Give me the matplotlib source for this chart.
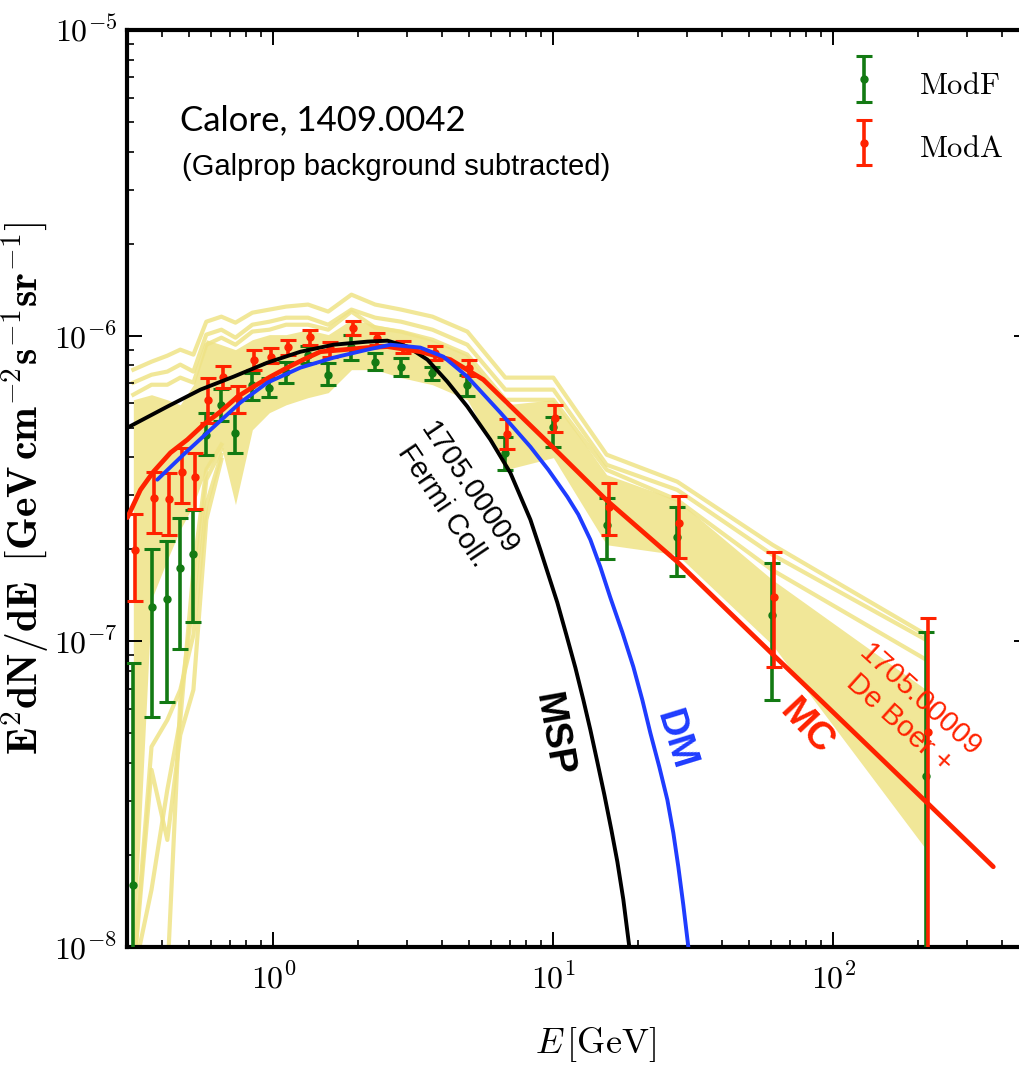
import matplotlib
matplotlib.use("Agg")
import matplotlib.pyplot as plt
from matplotlib.ticker import FuncFormatter
from matplotlib.legend_handler import HandlerErrorbar
import numpy as np

plt.rcParams['mathtext.fontset'] = 'cm'
plt.rcParams['font.family'] = ['DejaVu Sans']

# ---------------------------------------------------------------- data
# energy bin centres [GeV]
energy = [0.316, 0.367, 0.418, 0.465, 0.518, 0.576, 0.652, 0.732, 0.841, 0.968,
          1.11, 1.33, 1.57, 1.90, 2.31, 2.86, 3.70, 4.93, 6.74, 10.0,
          15.5, 27.7, 60.6, 215.0]

# ModF spectrum: value, lower and upper end of error bar
modF = [1.60e-8, 1.30e-7, 1.38e-7, 1.74e-7, 1.93e-7, 4.74e-7, 5.94e-7, 4.81e-7,
        6.91e-7, 6.76e-7, 7.63e-7, 8.67e-7, 7.45e-7, 9.21e-7, 8.22e-7, 7.92e-7,
        7.57e-7, 6.91e-7, 4.14e-7, 5.04e-7, 2.41e-7, 2.20e-7, 1.22e-7, 3.63e-8]
modF_lo = [5e-9, 5.66e-8, 6.34e-8, 9.45e-8, 1.16e-7, 4.08e-7, 5.27e-7, 4.14e-7,
           6.17e-7, 6.31e-7, 7.02e-7, 8.16e-7, 6.91e-7, 8.35e-7, 7.74e-7, 7.40e-7,
           7.18e-7, 6.36e-7, 3.64e-7, 4.33e-7, 1.86e-7, 1.63e-7, 6.43e-8, 5e-9]
modF_hi = [8.50e-8, 2.01e-7, 2.13e-7, 2.54e-7, 2.69e-7, 5.60e-7, 6.71e-7, 5.60e-7,
           7.57e-7, 7.29e-7, 8.22e-7, 9.28e-7, 8.16e-7, 1.008e-6, 8.80e-7, 8.47e-7,
           7.92e-7, 7.45e-7, 4.67e-7, 5.43e-7, 2.95e-7, 2.76e-7, 1.81e-7, 1.07e-7]

# ModA spectrum
modA = [1.99e-7, 2.95e-7, 2.93e-7, 3.59e-7, 3.46e-7, 6.17e-7, 7.34e-7, 6.27e-7,
        8.35e-7, 8.54e-7, 9.21e-7, 9.92e-7, 9.14e-7, 1.062e-6, 9.85e-7, 9.21e-7,
        8.80e-7, 7.86e-7, 4.78e-7, 5.39e-7, 2.76e-7, 2.44e-7, 1.40e-7, 5.06e-8]
modA_lo = [1.35e-7, 2.27e-7, 2.23e-7, 2.84e-7, 2.71e-7, 5.19e-7, 6.76e-7, 5.60e-7,
           7.74e-7, 8.16e-7, 8.67e-7, 9.34e-7, 8.54e-7, 1.008e-6, 9.34e-7, 8.80e-7,
           8.35e-7, 7.40e-7, 4.27e-7, 4.85e-7, 2.23e-7, 1.88e-7, 8.25e-8, 5e-9]
modA_hi = [2.60e-7, 3.59e-7, 3.56e-7, 4.30e-7, 4.14e-7, 7.29e-7, 7.98e-7, 6.86e-7,
           9.00e-7, 9.14e-7, 9.70e-7, 1.046e-6, 9.56e-7, 1.120e-6, 1.023e-6, 9.63e-7,
           9.28e-7, 8.35e-7, 5.35e-7, 5.94e-7, 3.30e-7, 2.99e-7, 1.96e-7, 1.19e-7]

# Galprop model family: filled core and individual variants
band_lo = [8e-9, 1.37e-7, 1.85e-7, 2.32e-7, 2.80e-7, 3.64e-7, 4.33e-7, 2.80e-7,
           4.92e-7, 5.60e-7, 5.94e-7, 6.27e-7, 6.51e-7, 7.74e-7, 7.74e-7, 7.29e-7,
           6.91e-7, 6.17e-7, 3.64e-7, 3.99e-7, 2.07e-7, 1.92e-7, 9.74e-8, 2.08e-8]
band_hi = [6.17e-7, 6.41e-7, 6.17e-7, 5.94e-7, 6.91e-7, 9.70e-7, 9.34e-7, 9.00e-7,
           9.70e-7, 1.008e-6, 1.008e-6, 1.046e-6, 1.008e-6, 1.128e-6, 1.086e-6, 1.046e-6,
           9.70e-7, 8.67e-7, 5.94e-7, 6.17e-7, 3.51e-7, 2.90e-7, 1.59e-7, 6.94e-8]
model_up1 = [7.74e-7, 8.22e-7, 8.60e-7, 9.00e-7, 8.67e-7, 1.111e-6, 1.154e-6, 1.103e-6,
             1.189e-6, 1.217e-6, 1.245e-6, 1.264e-6, 1.199e-6, 1.362e-6, 1.264e-6, 1.217e-6,
             1.154e-6, 1.031e-6, 7.29e-7, 7.29e-7, 4.08e-7, 3.33e-7, 2.07e-7, 1.05e-7]
model_up2 = [7.02e-7, 7.45e-7, 7.63e-7, 8.04e-7, 7.63e-7, 1.008e-6, 1.046e-6, 9.85e-7,
             1.086e-6, 1.111e-6, 1.145e-6, 1.145e-6, 1.086e-6, 1.217e-6, 1.145e-6, 1.111e-6,
             1.046e-6, 9.34e-7, 6.66e-7, 6.66e-7, 3.78e-7, 3.13e-7, 1.92e-7, 1.01e-7]
model_up3 = [6.41e-7, 6.91e-7, 6.91e-7, 7.29e-7, 7.02e-7, 9.34e-7, 9.85e-7, 9.34e-7,
             1.031e-6, 1.046e-6, 1.086e-6, 1.086e-6, 1.046e-6, 1.199e-6, 1.062e-6, 1.031e-6,
             9.70e-7, 8.67e-7, 6.17e-7, 6.17e-7, 3.64e-7, 2.90e-7, 1.71e-7, 8.70e-8]
# low-energy variants (first seven bins)
model_low1 = [8e-9, 4.52e-8, 5.53e-8, 6.94e-8, 1.05e-7, 2.80e-7, 4.08e-7]
model_low2 = [8e-9, 3.80e-8, 2.24e-8, 4.94e-8, 6.94e-8, 2.50e-7, 3.93e-7]
model_low3 = [8e-9, 8e-9, 8e-9, 6.43e-8, 1.37e-7, 3.38e-7, 4.24e-7]
model_low4 = [8e-9, 1.54e-8, 3.27e-8, 5.53e-8, 1.71e-7, 3.64e-7, 4.40e-7]

# millisecond pulsar template
msp_E = [0.301, 0.418, 0.549, 0.720, 0.952, 1.249, 1.638, 2.166, 2.554, 3.010,
         3.548, 4.182, 4.930, 5.957, 7.02, 8.28, 8.99, 9.52, 10.33, 11.13,
         11.99, 12.80, 13.56, 14.36, 15.21, 16.11, 16.93, 17.78, 18.68]
msp_flux = [5.00e-7, 5.86e-7, 6.66e-7, 7.34e-7, 8.16e-7, 8.86e-7, 9.34e-7, 9.56e-7,
            9.63e-7, 9.21e-7, 8.35e-7, 7.07e-7, 5.86e-7, 4.57e-7, 3.56e-7, 2.50e-7,
            1.99e-7, 1.69e-7, 1.34e-7, 1.05e-7, 8.19e-8, 6.43e-8, 5.13e-8, 4.03e-8,
            3.15e-8, 2.42e-8, 1.90e-8, 1.43e-8, 1.0e-8]

# dark matter annihilation spectrum
dm_E = [0.385, 0.477, 0.596, 0.762, 0.952, 1.249, 1.638, 2.166, 2.617, 3.350,
        4.046, 4.930, 6.47, 8.28, 9.60, 11.22, 12.28, 13.56, 14.72, 15.98,
        17.64, 19.31, 20.79, 22.20, 23.91, 25.54, 26.83, 27.95, 29.13, 30.35]
dm_flux = [3.38e-7, 4.08e-7, 4.92e-7, 6.04e-7, 7.02e-7, 7.86e-7, 8.47e-7, 9.00e-7,
           9.34e-7, 9.14e-7, 8.54e-7, 7.34e-7, 5.60e-7, 4.33e-7, 3.64e-7, 2.97e-7,
           2.60e-7, 2.15e-7, 1.75e-7, 1.39e-7, 1.07e-7, 8.25e-8, 6.43e-8, 5.02e-8,
           3.88e-8, 3.03e-8, 2.36e-8, 1.83e-8, 1.37e-8, 1.0e-8]

# molecular cloud (cosmic ray) spectrum
mc_E = [0.301, 0.335, 0.373, 0.429, 0.493, 0.562, 0.647, 0.744, 0.848, 0.976,
        1.122, 1.280, 1.472, 2.166, 2.554, 3.350, 4.287, 5.623, 7.43, 9.60,
        15.46, 27.73, 62.1, 89.9, 216.6, 372.8]
mc_flux = [2.54e-7, 3.13e-7, 3.59e-7, 4.14e-7, 4.57e-7, 5.11e-7, 5.64e-7, 6.31e-7,
           6.81e-7, 7.34e-7, 7.86e-7, 8.35e-7, 8.86e-7, 9.14e-7, 9.21e-7, 8.86e-7,
           8.35e-7, 7.18e-7, 5.60e-7, 4.46e-7, 2.90e-7, 1.82e-7, 8.89e-8, 6.43e-8,
           2.96e-8, 1.83e-8]

# ---------------------------------------------------------------- style
YELLOW = '#efe386'
GREEN = '#137a13'
RED = '#ff2200'
BLUE = '#1f3cff'
MODA_SHIFT = 1.017   # small horizontal offset so both data sets stay visible

W, H = 1019, 1077
fig = plt.figure(figsize=(W / 100, H / 100), dpi=100)
ax = fig.add_axes([127 / W, 130 / H, 902 / W, 917 / H])
ax.set_xscale('log')
ax.set_yscale('log')
ax.set_xlim(0.3, 500)
ax.set_ylim(1e-8, 1e-5)

# model family
ax.fill_between(energy, band_lo, band_hi, color=YELLOW, lw=0, alpha=0.85, zorder=1)
for curve in (model_up1, model_up2, model_up3):
    ax.plot(energy, curve, color=YELLOW, lw=3, alpha=0.85, zorder=1)
for curve in (model_low1, model_low2, model_low3, model_low4):
    ax.plot(energy[:len(curve)], curve, color=YELLOW, lw=3, alpha=0.85, zorder=1)

# data points
E = np.array(energy)
f, flo, fhi = np.array(modF), np.array(modF_lo), np.array(modF_hi)
a, alo, ahi = np.array(modA), np.array(modA_lo), np.array(modA_hi)
ax.errorbar(E, f, yerr=[f - flo, fhi - f], fmt='o', color=GREEN, ms=5,
            elinewidth=2.6, capsize=6, capthick=2.2, zorder=3,
            label=r'$\mathrm{ModF}$')
ax.errorbar(E * MODA_SHIFT, a, yerr=[a - alo, ahi - a], fmt='o', color=RED, ms=5,
            elinewidth=2.6, capsize=6, capthick=2.2, zorder=4,
            label=r'$\mathrm{ModA}$')

# model curves
ax.plot(msp_E, msp_flux, color='black', lw=2.8, zorder=5, solid_capstyle='round')
ax.plot(mc_E, mc_flux, color=RED, lw=3.4, zorder=6, solid_capstyle='round')
ax.plot(dm_E, dm_flux, color=BLUE, lw=2.8, zorder=7, solid_capstyle='round')

# axes styling
for sp in ax.spines.values():
    sp.set_linewidth(3)
decade_fmt = FuncFormatter(lambda v, pos: r'$10^{%d}$' % int(round(np.log10(v))))
ax.xaxis.set_major_formatter(decade_fmt)
ax.yaxis.set_major_formatter(decade_fmt)
ax.tick_params(which='both', direction='in', top=True, right=True)
ax.tick_params(which='major', length=11, width=1.4, labelsize=23)
ax.tick_params(which='minor', length=5, width=1.2)
ax.tick_params(axis='x', which='major', pad=12)
ax.tick_params(axis='y', which='major', pad=7)

ax.set_xlabel(r'$E\,[\mathrm{GeV}]$', fontsize=26)
ax.xaxis.set_label_coords(0.519, -0.085)
ax.set_ylabel(r'$\mathbf{E^2dN/dE}\;\;\mathbf{[GeV\,cm^{-2}s^{-1}sr^{-1}]}$', fontsize=30)
ax.yaxis.set_label_coords(-0.084, 0.5)

ax.legend(loc='upper right', bbox_to_anchor=(1003 / W, 1 - 64 / H),
          bbox_transform=fig.transFigure, frameon=False, fontsize=22,
          borderpad=0, borderaxespad=0,
          handlelength=1.0, handleheight=1.6, handletextpad=1.3, labelspacing=0.8,
          handler_map={type(ax.containers[0]): HandlerErrorbar(xerr_size=0.5, yerr_size=0.75)})

# annotations
def px(x, y):
    return x / W, 1 - y / H

fig.text(*px(180, 120), 'Calore, 1409.0042', fontsize=25, family='Lato',
         ha='left', va='center')
fig.text(*px(182, 167), '(Galprop background subtracted)', fontsize=21,
         family='Liberation Sans', ha='left', va='center')
fig.text(*px(456, 497), '1705.00009\nFermi Coll.', fontsize=21,
         family='Liberation Sans', rotation=-56, rotation_mode='anchor',
         ha='center', va='center', multialignment='center', linespacing=1.15)
fig.text(*px(553, 735), 'MSP', fontsize=28, family='Liberation Sans',
         weight='bold', rotation=-80, rotation_mode='anchor',
         ha='center', va='center', color='black')
fig.text(*px(675, 740), 'DM', fontsize=28, family='Liberation Sans',
         weight='bold', rotation=-73, rotation_mode='anchor',
         ha='center', va='center', color=BLUE)
fig.text(*px(806, 727), 'MC', fontsize=28, family='Liberation Sans',
         weight='bold', rotation=-47, rotation_mode='anchor',
         ha='center', va='center', color=RED)
fig.text(*px(910, 712), '1705.00009\nDe Boer +', fontsize=21,
         family='Liberation Sans', rotation=-42, rotation_mode='anchor',
         ha='center', va='center', multialignment='center', linespacing=1.15,
         color=RED)

fig.savefig('out.png', dpi=100)
